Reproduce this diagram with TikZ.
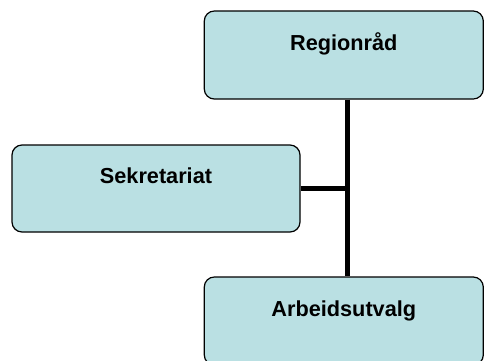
\documentclass[tikz,border=0pt]{standalone}
\usepackage{fontspec}
\setmainfont{Liberation Sans}
\definecolor{boxfill}{RGB}{186,224,227}
\begin{document}
\begin{tikzpicture}[x=1pt,y=1pt,
  orgbox/.style={draw=black, line width=1.2pt, fill=boxfill, rounded corners=10pt,
    inner xsep=0pt, inner ysep=0pt, font=\fontsize{21.7}{24}\selectfont\bfseries},
  link/.style={line width=5pt}]
\useasboundingbox (0,0) rectangle (485,-360);
\clip (0,0) rectangle (485,-360);
\fill[white] (0,0) rectangle (485,-360);
\node[orgbox, minimum width=279pt, text height=39pt, text depth=49pt, anchor=base] (reg) at (343.8,-50) {Regionråd};
\node[orgbox, minimum width=288pt, text height=38pt, text depth=49pt, anchor=base] (sek) at (156,-183) {Sekretariat};
\node[orgbox, minimum width=279pt, text height=39pt, text depth=49pt, anchor=base] (arb) at (343.8,-316) {Arbeidsutvalg};
\coordinate (trunk) at (347.5,-188);
\draw[link] (reg.south -| trunk) -- (arb.north -| trunk);
\draw[link] (sek.east) -- (sek.east -| trunk);
\end{tikzpicture}
\end{document}
